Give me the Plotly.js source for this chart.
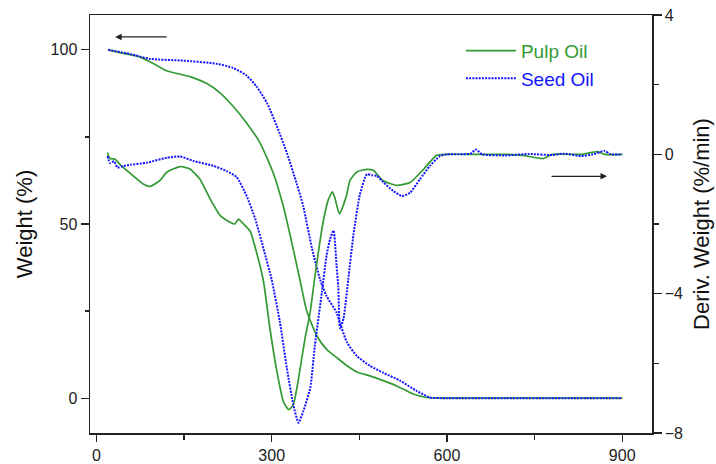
<!DOCTYPE html>
<html>
<head>
<meta charset="utf-8">
<script src="https://cdn.plot.ly/plotly-3.0.1.min.js"></script>
<style>html,body{margin:0;padding:0;background:#fff;}#chart{width:716px;height:464px;}</style>
</head>
<body>
<div id="chart"></div>
<script>
// Temperature (°C) and weight (%) — TGA curves
const pulpWeightT = [20, 46, 75, 98, 120, 160, 189, 212, 234, 257, 280, 303, 320, 337, 349, 360, 377, 394, 411, 429, 446, 468, 485, 514, 542, 565, 600, 700, 800, 900];
const pulpWeight  = [100, 99.0, 97.9, 96.0, 94.0, 92.3, 90.3, 87.6, 83.8, 79.0, 73.3, 64.5, 55.0, 42.7, 33.5, 25.0, 18.0, 14.0, 11.7, 9.3, 7.5, 6.4, 5.4, 3.5, 1.2, 0.2, 0, 0, 0, 0];

const seedWeightT = [20, 58, 92, 149, 206, 234, 257, 274, 292, 309, 326, 343, 354, 369, 383, 394, 411, 417, 429, 446, 468, 491, 520, 548, 571, 600, 700, 800, 900];
const seedWeight  = [100, 98.8, 97.4, 96.9, 96.0, 94.8, 92.6, 89.5, 84.7, 78.0, 70.4, 61.5, 55.1, 43.0, 34.0, 29.3, 24.6, 21.5, 16.0, 12.1, 9.3, 7.3, 5.0, 2.1, 0.2, 0, 0, 0, 0];

// Temperature (°C) and derivative weight (%/min) — DTG curves
const pulpDtgT = [19, 23, 32, 40, 63, 80, 92, 109, 120, 143, 160, 177, 195, 212, 229, 237, 243, 252, 263, 274, 286, 297, 309, 320, 329, 337, 346, 357, 366, 374, 388, 397, 404, 408, 416, 428, 434, 446, 463, 474, 491, 514, 537, 560, 582, 600, 650, 700, 730, 765, 780, 830, 858, 870, 900];
const pulpDtg  = [0.05, -0.12, -0.14, -0.29, -0.62, -0.85, -0.92, -0.75, -0.52, -0.35, -0.42, -0.71, -1.29, -1.76, -1.95, -2.0, -1.86, -2.0, -2.2, -2.81, -3.65, -5.0, -6.24, -7.1, -7.33, -7.19, -6.43, -5.29, -4.52, -3.5, -1.95, -1.3, -1.08, -1.24, -1.71, -1.19, -0.75, -0.5, -0.43, -0.46, -0.76, -0.89, -0.81, -0.43, -0.03, 0, 0, 0, -0.03, -0.12, 0, 0, 0.08, 0, 0];

const seedDtgT = [19, 23, 30, 36, 45, 58, 86, 120, 143, 166, 200, 223, 240, 257, 272, 286, 300, 314, 326, 337, 346, 354, 366, 374, 386, 394, 400, 406, 411, 414, 417, 423, 431, 440, 451, 463, 471, 480, 491, 508, 523, 537, 554, 571, 588, 600, 620, 640, 650, 660, 700, 740, 780, 800, 830, 850, 870, 880, 900];
const seedDtg  = [-0.05, -0.25, -0.2, -0.38, -0.34, -0.3, -0.24, -0.1, -0.06, -0.19, -0.33, -0.48, -0.65, -1.19, -1.86, -2.71, -3.6, -4.81, -6.14, -7.19, -7.71, -7.38, -6.71, -5.48, -3.95, -2.9, -2.43, -2.19, -3.19, -3.8, -5.0, -4.71, -3.6, -2.3, -1.15, -0.57, -0.6, -0.62, -0.8, -1.05, -1.2, -1.1, -0.71, -0.33, -0.05, 0, 0, 0.02, 0.14, 0, -0.03, 0.01, -0.02, 0.02, -0.05, 0, 0.1, 0, 0];

const seriesNames = ['Pulp Oil', 'Seed Oil'];
const xTicks = [0, 300, 600, 900];
const yTicks = [0, 50, 100];
const y2Ticks = [-8, -4, 0, 4];

const GREEN = '#349a34';
const BLUE = '#1414ff';
const BLUE_DASH = '2px,1.2px';

const traces = [
  {x: pulpWeightT, y: pulpWeight, type: 'scatter', mode: 'lines', name: '<span style="color:' + GREEN + '">' + seriesNames[0] + '</span>',
   line: {color: GREEN, width: 1.7, shape: 'spline', smoothing: 0.6}, legendgroup: 'p', showlegend: true},
  {x: seedWeightT, y: seedWeight, type: 'scatter', mode: 'lines', name: '<span style="color:' + BLUE + '">' + seriesNames[1] + '</span>',
   line: {color: BLUE, width: 2, dash: BLUE_DASH, shape: 'spline', smoothing: 0.6}, legendgroup: 's', showlegend: true},
  {x: pulpDtgT, y: pulpDtg, type: 'scatter', mode: 'lines', yaxis: 'y2', name: seriesNames[0],
   line: {color: GREEN, width: 1.7, shape: 'spline', smoothing: 0.5}, legendgroup: 'p', showlegend: false},
  {x: seedDtgT, y: seedDtg, type: 'scatter', mode: 'lines', yaxis: 'y2', name: seriesNames[1],
   line: {color: BLUE, width: 2, dash: BLUE_DASH, shape: 'spline', smoothing: 0.5}, legendgroup: 's', showlegend: false}
];

const FAMILY = 'Liberation Sans, Arial, sans-serif';
const axisFont = {family: FAMILY, size: 16, color: '#222'};
const titleFont = {family: FAMILY, size: 22, color: '#111'};

const layout = {
  width: 716, height: 464,
  margin: {l: 90, r: 64, t: 15, b: 31, pad: 0},
  paper_bgcolor: '#fff', plot_bgcolor: '#fff',
  font: axisFont,
  showlegend: true,
  legend: {x: 0.66, y: 0.96, xanchor: 'left', yanchor: 'top', bgcolor: 'rgba(0,0,0,0)',
           font: {family: FAMILY, size: 19}, tracegroupgap: 0, itemwidth: 50},
  xaxis: {range: [-11, 951], tickvals: xTicks, ticktext: xTicks.map(String), ticks: 'outside', ticklen: 7, tickwidth: 1.3,
          tickcolor: '#222', showline: true, linecolor: '#222', linewidth: 1.5, mirror: true, showgrid: false, zeroline: false,
          minor: {tickvals: [150, 450, 750], ticks: 'outside', ticklen: 5, tickwidth: 1.3, tickcolor: '#222', showgrid: false},
          tickfont: axisFont},
  yaxis: {range: [-10, 110], tickvals: yTicks, ticktext: yTicks.map(String), ticks: 'outside', ticklen: 8, tickwidth: 1.3,
          tickcolor: '#222', showline: true, linecolor: '#222', linewidth: 1.5, showgrid: false, zeroline: false,
          minor: {tickvals: [25, 75], ticks: 'outside', ticklen: 4, tickwidth: 1.3, tickcolor: '#222', showgrid: false},
          title: {text: 'Weight (%)', font: titleFont, standoff: 12}, tickfont: axisFont},
  yaxis2: {range: [-8, 4], overlaying: 'y', side: 'right', tickvals: y2Ticks, ticks: 'outside', ticklen: 8, tickwidth: 1.3,
          tickcolor: '#222', showline: true, linecolor: '#222', linewidth: 1.5, showgrid: false, zeroline: false,
          minor: {tickvals: [-6, -2, 2], ticks: 'outside', ticklen: 5, tickwidth: 1.3, tickcolor: '#222', showgrid: false},
          title: {text: 'Deriv. Weight (%/min)', font: titleFont, standoff: 11}, tickfont: axisFont},
  annotations: [
    {x: 32, y: 103.7, xref: 'x', yref: 'y', ax: 53, ay: 0, showarrow: true, arrowhead: 2, arrowsize: 1, arrowwidth: 1.3, arrowcolor: '#222', text: ''},
    {x: 874, y: -0.63, xref: 'x', yref: 'y2', ax: -57, ay: 0, showarrow: true, arrowhead: 2, arrowsize: 1, arrowwidth: 1.3, arrowcolor: '#222', text: ''}
  ]
};

Plotly.newPlot('chart', traces, layout, {displayModeBar: false, staticPlot: true});
</script>
</body>
</html>
